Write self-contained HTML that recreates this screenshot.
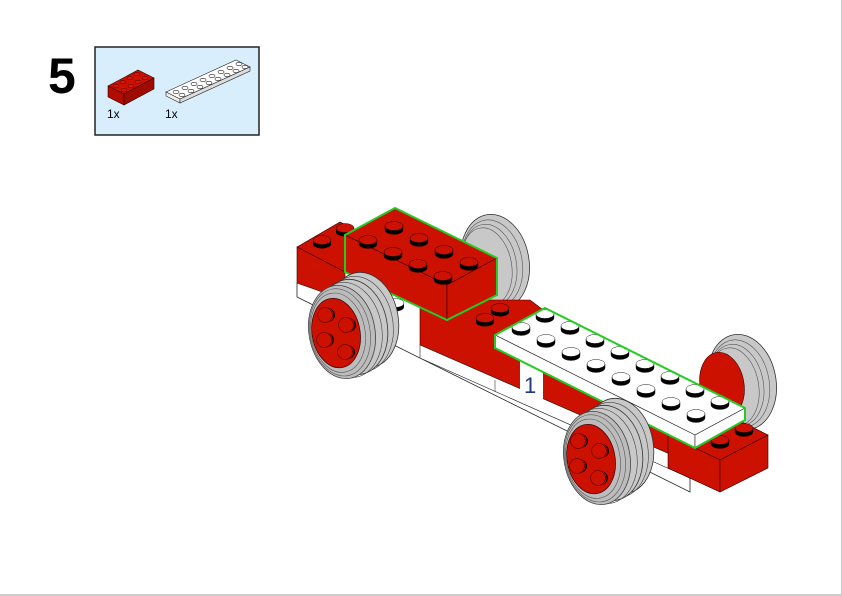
<!DOCTYPE html>
<html><head><meta charset="utf-8"><style>
html,body{margin:0;padding:0;background:#fff;}
svg{display:block;}
text{font-family:"Liberation Sans",sans-serif;}
</style></head><body>
<svg width="842" height="596" viewBox="0 0 842 596" xmlns="http://www.w3.org/2000/svg">
<defs>
<g id="wheelback">
 <ellipse cx="0" cy="0" rx="34" ry="48" fill="#c8c8c8" stroke="#333" stroke-width="0.8"/>
 <ellipse cx="-3" cy="1" rx="30" ry="44" fill="none" stroke="#555" stroke-width="0.6"/>
 <ellipse cx="-6" cy="2" rx="27" ry="41" fill="none" stroke="#555" stroke-width="0.6"/>
 <ellipse cx="-9" cy="3" rx="25" ry="39" fill="none" stroke="#555" stroke-width="0.6"/>
</g>
<g id="stud"><path d="M-9,0 v4 a9,4.5 0 0 0 18,0 v-4 z" fill="#000"/></g>
<g id="fwheel">
 <ellipse cx="24" cy="-8" rx="34" ry="48" fill="#c8c8c8" stroke="#333" stroke-width="0.8"/>
 <ellipse cx="18" cy="-5" rx="34" ry="48" fill="none" stroke="#444" stroke-width="0.6"/>
 <ellipse cx="12" cy="-3" rx="34" ry="48" fill="#c8c8c8" stroke="#333" stroke-width="0.8"/>
 <ellipse cx="6" cy="-1" rx="34" ry="48" fill="none" stroke="#444" stroke-width="0.6"/>
 <ellipse cx="0" cy="0" rx="33" ry="47" fill="#bcbcbc" stroke="#444" stroke-width="0.8"/>
 <ellipse cx="-2" cy="0" rx="30" ry="44" fill="none" stroke="#555" stroke-width="0.6"/>
 <ellipse cx="-4" cy="0" rx="27" ry="40" fill="none" stroke="#555" stroke-width="0.6"/>
 <ellipse cx="-6" cy="0" rx="24" ry="35" fill="#cc1100" stroke="#300" stroke-width="0.7"/>
</g>
<g id="hstud"><circle r="7.5" fill="#cc1100" stroke="#300" stroke-width="0.5"/><path d="M0,-7.5 a7.5,7.5 0 0 1 0,15 a9,7.5 0 0 0 0,-15z" fill="#000" transform="translate(1,0)"/></g>
</defs>
<rect x="841" y="0" width="1" height="596" fill="#ccc"/>
<rect x="0" y="594" width="842" height="2" fill="#ccc"/>

<text x="48" y="93" font-size="50" font-weight="bold" fill="#000">5</text>
<rect x="95" y="47" width="164" height="88" fill="#d9eefc" stroke="#222" stroke-width="1.5"/>
<!-- parts: red brick -->
<polygon points="108,86 138,70 154,78 124,94" fill="#cc1100" stroke="#300" stroke-width="0.6"/>
<polygon points="108,86 124,94 124,105 108,97" fill="#b00d00" stroke="#300" stroke-width="0.6"/>
<polygon points="124,94 154,78 154,89 124,105" fill="#a00b00" stroke="#300" stroke-width="0.6"/>
<g fill="#e01500" stroke="#300" stroke-width="0.5">
<ellipse cx="116" cy="86" rx="3" ry="1.8"/><ellipse cx="123" cy="82" rx="3" ry="1.8"/><ellipse cx="130" cy="78" rx="3" ry="1.8"/><ellipse cx="137" cy="74" rx="3" ry="1.8"/>
<ellipse cx="124" cy="90" rx="3" ry="1.8"/><ellipse cx="131" cy="86" rx="3" ry="1.8"/><ellipse cx="138" cy="82" rx="3" ry="1.8"/><ellipse cx="145" cy="78" rx="3" ry="1.8"/>
</g>
<!-- white plate -->
<polygon points="166,92 236,60 250,67 180,99" fill="#fff" stroke="#222" stroke-width="0.6"/>
<polygon points="166,92 180,99 180,103 166,96" fill="#eee" stroke="#222" stroke-width="0.6"/>
<polygon points="180,99 250,67 250,71 180,103" fill="#ddd" stroke="#222" stroke-width="0.6"/>
<g fill="#fff" stroke="#222" stroke-width="0.6">
<ellipse cx="176" cy="92" rx="3" ry="1.7"/><ellipse cx="185" cy="88" rx="3" ry="1.7"/><ellipse cx="194" cy="84" rx="3" ry="1.7"/><ellipse cx="203" cy="80" rx="3" ry="1.7"/><ellipse cx="212" cy="76" rx="3" ry="1.7"/><ellipse cx="221" cy="72" rx="3" ry="1.7"/><ellipse cx="230" cy="68" rx="3" ry="1.7"/><ellipse cx="239" cy="64" rx="3" ry="1.7"/>
<ellipse cx="182" cy="95" rx="3" ry="1.7"/><ellipse cx="191" cy="91" rx="3" ry="1.7"/><ellipse cx="200" cy="87" rx="3" ry="1.7"/><ellipse cx="209" cy="83" rx="3" ry="1.7"/><ellipse cx="218" cy="79" rx="3" ry="1.7"/><ellipse cx="227" cy="75" rx="3" ry="1.7"/><ellipse cx="236" cy="71" rx="3" ry="1.7"/><ellipse cx="245" cy="67" rx="3" ry="1.7"/>
</g>
<text x="107" y="118" font-size="12" fill="#000">1x</text>
<text x="165" y="118" font-size="12" fill="#000">1x</text>

<!-- back wheels -->
<use href="#wheelback" transform="translate(495,262) rotate(-10)"/>
<use href="#wheelback" transform="translate(742,382) rotate(-10)"/>
<ellipse cx="722" cy="385" rx="22" ry="33" fill="#cc1100" stroke="#300" stroke-width="0.6" transform="rotate(-10 722 385)"/>

<!-- white chassis base -->
<polygon points="297,283 340,262 700,440 690,478 690,492 297,297" fill="#fff" stroke="#222" stroke-width="0.8"/>

<!-- rear left red brick -->
<polygon points="297,247 340,222 390,247 345,272" fill="#cc1100" stroke="#300" stroke-width="0.6"/>
<polygon points="297,247 345,272 345,300 297,283" fill="#cc1100" stroke="#300" stroke-width="0.6"/>
<g transform="translate(322,240)"><use href="#stud"/><ellipse rx="9" ry="4.5" fill="#cc1100" stroke="#300" stroke-width="0.5"/></g>
<g transform="translate(345,228)"><use href="#stud"/><ellipse rx="9" ry="4.5" fill="#cc1100" stroke="#300" stroke-width="0.5"/></g>

<!-- middle red body -->
<polygon points="420,300 530,300 690,420 690,463 420,345" fill="#cc1100" stroke="#300" stroke-width="0.6"/>
<polygon points="420,345 690,463 690,478 420,358" fill="#fff" stroke="#222" stroke-width="0.6"/>
<polygon points="520,360 543,371 543,410 520,399" fill="#fff"/>
<text x="524" y="393" font-size="22" fill="#1a3a7a">1</text>
<line x1="495" y1="380" x2="495" y2="392" stroke="#333" stroke-width="0.6"/>
<g transform="translate(500,308)"><use href="#stud"/><ellipse rx="9" ry="4.5" fill="#cc1100" stroke="#300" stroke-width="0.5"/></g>
<g transform="translate(485,318)"><use href="#stud"/><ellipse rx="9" ry="4.5" fill="#cc1100" stroke="#300" stroke-width="0.5"/></g>
<g transform="translate(395,303)"><use href="#stud"/><ellipse rx="9" ry="4.5" fill="#fff" stroke="#222" stroke-width="0.5"/></g>

<!-- upper red 2x4 brick -->
<polygon points="345,235 395,208 497,258 447,285" fill="#cc1100" stroke="#300" stroke-width="0.6"/>
<polygon points="345,235 447,285 447,320 345,272" fill="#cc1100" stroke="#300" stroke-width="0.6"/>
<polygon points="447,285 497,258 497,295 447,320" fill="#cc1100" stroke="#300" stroke-width="0.6"/>
<g fill="#cc1100" stroke="#300" stroke-width="0.5">
<g transform="translate(368,240)"><use href="#stud"/><ellipse rx="9" ry="4.5"/></g>
<g transform="translate(393,252)"><use href="#stud"/><ellipse rx="9" ry="4.5"/></g>
<g transform="translate(418,264)"><use href="#stud"/><ellipse rx="9" ry="4.5"/></g>
<g transform="translate(443,276)"><use href="#stud"/><ellipse rx="9" ry="4.5"/></g>
<g transform="translate(394,226)"><use href="#stud"/><ellipse rx="9" ry="4.5"/></g>
<g transform="translate(419,238)"><use href="#stud"/><ellipse rx="9" ry="4.5"/></g>
<g transform="translate(444,250)"><use href="#stud"/><ellipse rx="9" ry="4.5"/></g>
<g transform="translate(469,262)"><use href="#stud"/><ellipse rx="9" ry="4.5"/></g>
</g>
<polygon points="345,235 395,208 497,258 497,295 447,320 345,272" fill="none" stroke="#22cc22" stroke-width="2"/>

<!-- front right red brick -->
<polygon points="668,435 718,410 768,435 720,460" fill="#cc1100" stroke="#300" stroke-width="0.6"/>
<polygon points="668,435 720,460 720,492 668,468" fill="#cc1100" stroke="#300" stroke-width="0.6"/>
<polygon points="720,460 768,435 768,468 720,492" fill="#cc1100" stroke="#300" stroke-width="0.6"/>
<g fill="#cc1100" stroke="#300" stroke-width="0.5">
<g transform="translate(720,440)"><use href="#stud"/><ellipse rx="9" ry="4.5"/></g>
<g transform="translate(744,428)"><use href="#stud"/><ellipse rx="9" ry="4.5"/></g>
</g>

<!-- white 2x8 plate -->
<polygon points="495,335 545,308 745,408 695,435" fill="#fff" stroke="#222" stroke-width="0.6"/>
<polygon points="495,335 695,435 695,448 495,348" fill="#fff" stroke="#222" stroke-width="0.6"/>
<polygon points="695,435 745,408 745,420 695,448" fill="#fff" stroke="#222" stroke-width="0.6"/>
<g fill="#fff" stroke="#222" stroke-width="0.5">
<g transform="translate(521,327)"><use href="#stud"/><ellipse rx="9" ry="4.5"/></g>
<g transform="translate(546,339)"><use href="#stud"/><ellipse rx="9" ry="4.5"/></g>
<g transform="translate(571,352)"><use href="#stud"/><ellipse rx="9" ry="4.5"/></g>
<g transform="translate(596,364)"><use href="#stud"/><ellipse rx="9" ry="4.5"/></g>
<g transform="translate(621,377)"><use href="#stud"/><ellipse rx="9" ry="4.5"/></g>
<g transform="translate(646,389)"><use href="#stud"/><ellipse rx="9" ry="4.5"/></g>
<g transform="translate(671,402)"><use href="#stud"/><ellipse rx="9" ry="4.5"/></g>
<g transform="translate(696,414)"><use href="#stud"/><ellipse rx="9" ry="4.5"/></g>
<g transform="translate(545,314)"><use href="#stud"/><ellipse rx="9" ry="4.5"/></g>
<g transform="translate(570,326)"><use href="#stud"/><ellipse rx="9" ry="4.5"/></g>
<g transform="translate(595,339)"><use href="#stud"/><ellipse rx="9" ry="4.5"/></g>
<g transform="translate(620,351)"><use href="#stud"/><ellipse rx="9" ry="4.5"/></g>
<g transform="translate(645,364)"><use href="#stud"/><ellipse rx="9" ry="4.5"/></g>
<g transform="translate(670,376)"><use href="#stud"/><ellipse rx="9" ry="4.5"/></g>
<g transform="translate(695,389)"><use href="#stud"/><ellipse rx="9" ry="4.5"/></g>
<g transform="translate(720,401)"><use href="#stud"/><ellipse rx="9" ry="4.5"/></g>
</g>
<polygon points="495,335 545,308 745,408 745,420 695,448 495,348" fill="none" stroke="#22cc22" stroke-width="2"/>

<!-- front wheels -->
<use href="#fwheel" transform="translate(342,332) rotate(-10)"/>
<use href="#hstud" transform="translate(325,315)"/>
<use href="#hstud" transform="translate(346,325)"/>
<use href="#hstud" transform="translate(324,340)"/>
<use href="#hstud" transform="translate(345,352)"/>
<use href="#fwheel" transform="translate(597,458) rotate(-10)"/>
<use href="#hstud" transform="translate(578,441)"/>
<use href="#hstud" transform="translate(599,451)"/>
<use href="#hstud" transform="translate(577,466)"/>
<use href="#hstud" transform="translate(598,478)"/>
</svg>
</body></html>
